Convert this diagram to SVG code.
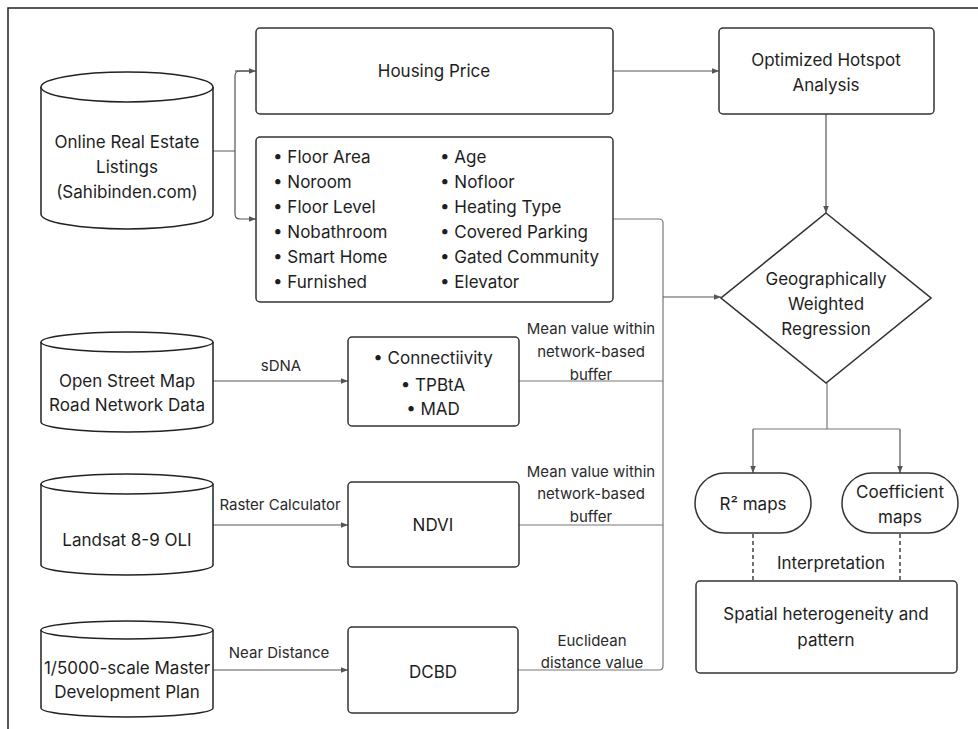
<svg xmlns="http://www.w3.org/2000/svg" width="978" height="729" viewBox="0 0 978 729">
<defs>
<marker id="ah" viewBox="0 0 10 10" refX="10" refY="5" markerWidth="9" markerHeight="7" markerUnits="userSpaceOnUse" orient="auto">
<path d="M0,1 L10,5 L0,9 Z" fill="#555"/>
</marker>
<style>
.box{fill:#fff;stroke:#333;stroke-width:1.5}
.cyl{fill:#fff;stroke:#222;stroke-width:1.5}
.t{font-family:Inter,"Noto Sans","Liberation Sans",sans-serif;font-size:17px;fill:#1e1e1e;text-anchor:middle}
.tl{font-family:Inter,"Noto Sans","Liberation Sans",sans-serif;font-size:17px;fill:#1e1e1e}
.lb{font-family:Inter,"Noto Sans","Liberation Sans",sans-serif;font-size:15px;fill:#2a2a2a;text-anchor:middle}
.c{fill:none;stroke:#777;stroke-width:1.2}
.ca{fill:none;stroke:#555;stroke-width:1.2;marker-end:url(#ah)}
.d{fill:none;stroke:#333;stroke-width:1.4;stroke-dasharray:4,3}
</style>
</defs>
<rect width="978" height="729" fill="#fff"/>
<path d="M8 729 V8 H978" fill="none" stroke="#222" stroke-width="1.5"/>

<g id="connectors">
<path class="c" d="M213 151 H235"/>
<path class="ca" d="M252 71 H240 Q235 71 235 76 V214 Q235 219 240 219 H256"/>
<path class="ca" d="M235 71 H256"/>
<path class="ca" d="M613 71 H719"/>
<path class="ca" d="M826 114 V213"/>
<path class="c" d="M613 219 H659 Q663 219 663 223 V666 Q663 670 659 670 H518"/>
<path class="c" d="M519 381 H663"/>
<path class="c" d="M519 525 H663"/>
<path class="ca" d="M663 297 H721"/>
<path class="ca" d="M213 381 H348"/>
<path class="ca" d="M213 525 H348"/>
<path class="ca" d="M213 670 H348"/>
<path class="c" d="M827 383 V429"/>
<path class="ca" d="M753 429 V473"/>
<path class="ca" d="M900 429 V473"/>
<path class="c" d="M753 429 H900"/>
<path class="d" d="M753 534 V581"/>
<path class="d" d="M900 534 V581"/>
<text class="lb" x="281" y="371">sDNA</text>
<text class="lb" x="280" y="510">Raster Calculator</text>
<text class="lb" x="279" y="658">Near Distance</text>
<text class="lb" x="591" y="334">Mean value within</text>
<text class="lb" x="591" y="357">network-based</text>
<text class="lb" x="591" y="380">buffer</text>
<text class="lb" x="591" y="477">Mean value within</text>
<text class="lb" x="591" y="499">network-based</text>
<text class="lb" x="591" y="522">buffer</text>
<text class="lb" x="592" y="646">Euclidean</text>
<text class="lb" x="592" y="668">distance value</text>
<text class="t" x="831" y="569">Interpretation</text>
</g>

<g id="online-listings">
<path class="cyl" d="M41 87 V214 A86 15 0 0 0 213 214 V87"/>
<ellipse class="cyl" cx="127" cy="87" rx="86" ry="15"/>
<text class="t" x="127" y="148">Online Real Estate</text>
<text class="t" x="127" y="173">Listings</text>
<text class="t" x="127" y="198">(Sahibinden.com)</text>
</g>

<g id="housing-price">
<rect class="box" x="256" y="28" width="357" height="86" rx="4"/>
<text class="t" x="434" y="77">Housing Price</text>
</g>

<g id="hotspot">
<rect class="box" x="719" y="28" width="215" height="86" rx="4"/>
<text class="t" x="826" y="66">Optimized Hotspot</text>
<text class="t" x="826" y="91">Analysis</text>
</g>

<g id="features">
<rect class="box" x="256" y="137" width="357" height="165" rx="4"/>
<text class="tl" x="273" y="163">• Floor Area</text>
<text class="tl" x="273" y="188">• Noroom</text>
<text class="tl" x="273" y="213">• Floor Level</text>
<text class="tl" x="273" y="238">• Nobathroom</text>
<text class="tl" x="273" y="263">• Smart Home</text>
<text class="tl" x="273" y="288">• Furnished</text>
<text class="tl" x="440" y="163">• Age</text>
<text class="tl" x="440" y="188">• Nofloor</text>
<text class="tl" x="440" y="213">• Heating Type</text>
<text class="tl" x="440" y="238">• Covered Parking</text>
<text class="tl" x="440" y="263">• Gated Community</text>
<text class="tl" x="440" y="288">• Elevator</text>
</g>

<g id="gwr">
<path class="box" d="M826 213 L931 298 L826 383 L721 298 Z" style="stroke-width:1.6"/>
<text class="t" x="826" y="285">Geographically</text>
<text class="t" x="826" y="310">Weighted</text>
<text class="t" x="826" y="335">Regression</text>
</g>

<g id="osm">
<path class="cyl" d="M41 342 V422 A86 10 0 0 0 213 422 V342"/>
<ellipse class="cyl" cx="127" cy="342" rx="86" ry="10"/>
<text class="t" x="127" y="387">Open Street Map</text>
<text class="t" x="127" y="411">Road Network Data</text>
</g>

<g id="network-measures">
<rect class="box" x="348" y="337" width="171" height="89" rx="4"/>
<text class="t" x="433" y="364">• Connectiivity</text>
<text class="t" x="433" y="391">• TPBtA</text>
<text class="t" x="433" y="415">• MAD</text>
</g>

<g id="landsat">
<path class="cyl" d="M41 484 V565 A86 10 0 0 0 213 565 V484"/>
<ellipse class="cyl" cx="127" cy="484" rx="86" ry="10"/>
<text class="t" x="127" y="546">Landsat 8-9 OLI</text>
</g>

<g id="ndvi">
<rect class="box" x="348" y="482" width="171" height="85" rx="4"/>
<text class="t" x="433" y="531">NDVI</text>
</g>

<g id="master-plan">
<path class="cyl" d="M41 630 V708 A86 9 0 0 0 213 708 V630"/>
<ellipse class="cyl" cx="127" cy="630" rx="86" ry="9"/>
<text class="t" x="127" y="674">1/5000-scale Master</text>
<text class="t" x="127" y="698">Development Plan</text>
</g>

<g id="dcbd">
<rect class="box" x="348" y="627" width="170" height="86" rx="4"/>
<text class="t" x="433" y="678">DCBD</text>
</g>

<g id="r2-maps">
<rect class="box" x="695" y="473" width="116" height="60" rx="30"/>
<text class="t" x="753" y="510">R² maps</text>
</g>

<g id="coef-maps">
<rect class="box" x="842" y="473" width="116" height="60" rx="30"/>
<text class="t" x="900" y="498">Coefficient</text>
<text class="t" x="900" y="523">maps</text>
</g>

<g id="spatial">
<rect class="box" x="696" y="581" width="261" height="92" rx="4"/>
<text class="t" x="826" y="620">Spatial heterogeneity and</text>
<text class="t" x="826" y="646">pattern</text>
</g>
</svg>
